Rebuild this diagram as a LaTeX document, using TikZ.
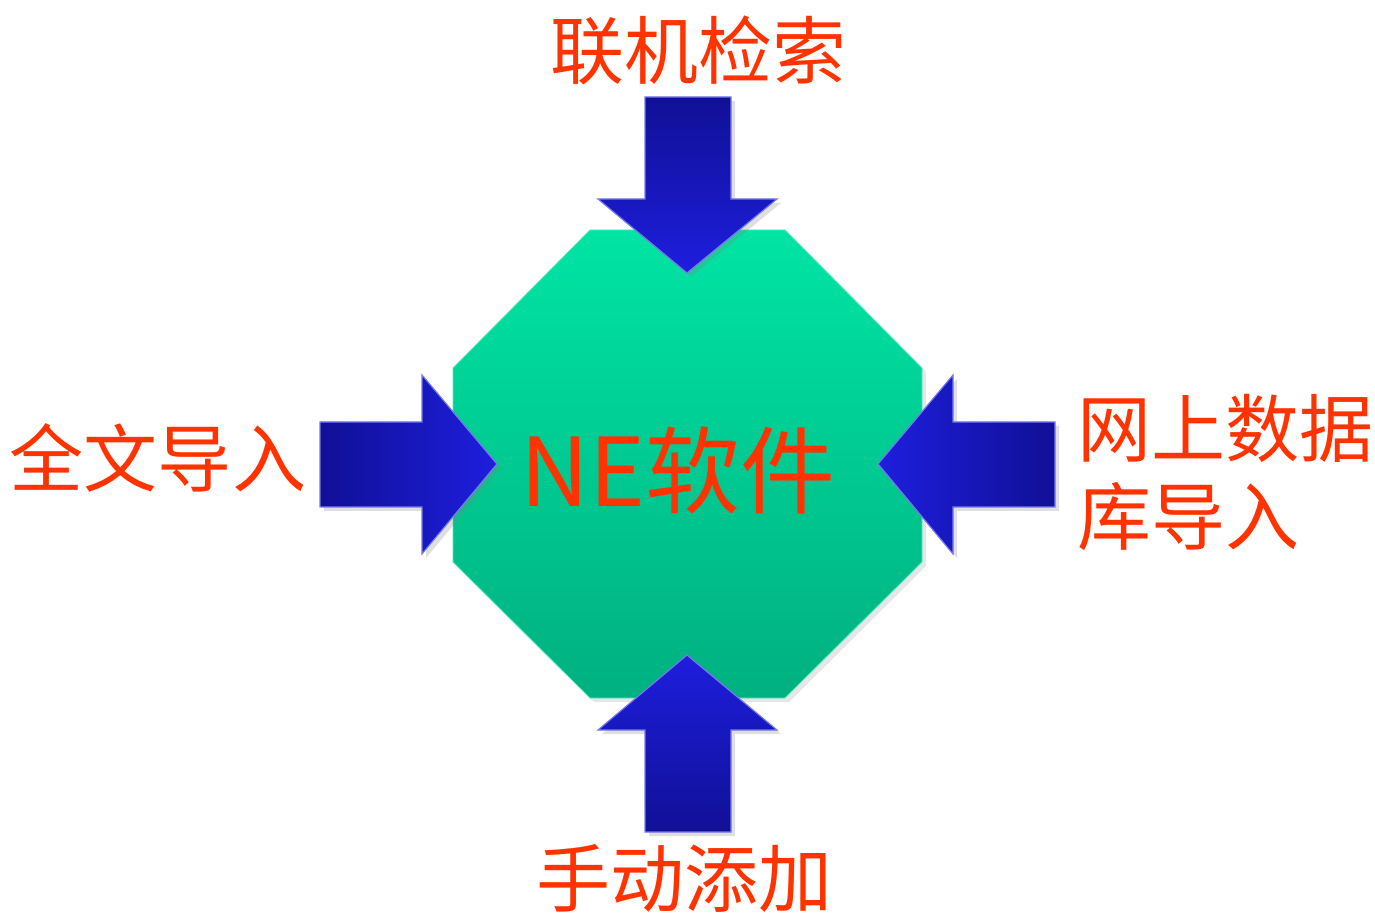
\documentclass[tikz,border=0pt]{standalone}
\usepackage{fontspec}
\newfontfamily\cjk{Noto Sans CJK SC}
\usetikzlibrary{shadows}
\definecolor{txtred}{RGB}{255,51,0}
\definecolor{octtop}{RGB}{0,228,164}
\definecolor{octbot}{RGB}{0,176,128}
\definecolor{arrdark}{RGB}{16,16,150}
\definecolor{arrlight}{RGB}{30,30,222}
\tikzset{
  lbl/.style={text=txtred, font=\cjk\fontsize{37pt}{44pt}\selectfont, inner sep=0pt},
  blockarrow/.style={draw=arrlight!60!white, line width=0.6pt, line join=miter,
    drop shadow={shadow xshift=2pt, shadow yshift=-2pt, opacity=0.25}},
}
\begin{document}
\begin{tikzpicture}[x=0.5pt,y=-0.5pt]
\useasboundingbox (0,0) rectangle (1375,913);
% octagon
\path[top color=octtop, bottom color=octbot, draw=octtop!70!white, line width=0.4pt,
  drop shadow={shadow xshift=2pt, shadow yshift=-2pt, opacity=0.2}]
  (590,230) -- (785,230) -- (922,368) -- (922,562) -- (785,698) -- (590,698) -- (453,562) -- (453,368) -- cycle;
% top arrow
\path[blockarrow, top color=arrdark, bottom color=arrlight]
  (645,97) -- (731,97) -- (731,199) -- (777,199) -- (687,273) -- (598,199) -- (645,199) -- cycle;
% bottom arrow
\path[blockarrow, top color=arrlight, bottom color=arrdark]
  (645,832) -- (731,832) -- (731,730) -- (777,730) -- (687,655) -- (598,730) -- (645,730) -- cycle;
% left arrow
\path[blockarrow, left color=arrdark, right color=arrlight]
  (320,422) -- (422,422) -- (422,375) -- (497,464) -- (422,554) -- (422,507) -- (320,507) -- cycle;
% right arrow
\path[blockarrow, left color=arrlight, right color=arrdark]
  (1055,422) -- (953,422) -- (953,375) -- (878,464) -- (953,554) -- (953,507) -- (1055,507) -- cycle;
% labels
\node[lbl] (top) at (698,50) {联机检索};
\node[lbl] (left) at (158,458) {全文导入};
\node[lbl, align=left, anchor=west] (right) at (1077,473) {网上数据\\库导入};
\node[lbl] (bottom) at (684,878) {手动添加};
\node[lbl, font=\cjk\fontsize{47.5pt}{52pt}\selectfont] (center) at (678,470) {NE软件};
\end{tikzpicture}
\end{document}
